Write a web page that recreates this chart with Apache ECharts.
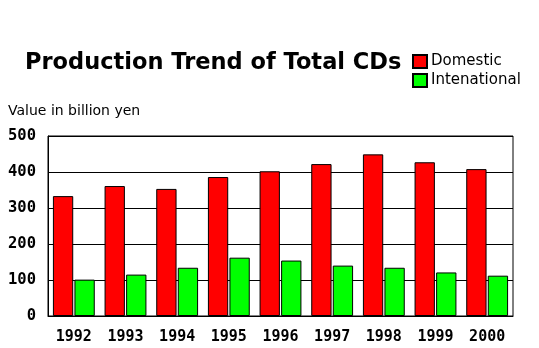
<!DOCTYPE html>
<html><head><meta charset="utf-8">
<script src="https://cdn.jsdelivr.net/npm/echarts@6/dist/echarts.min.js"></script>
<style>html,body{margin:0;padding:0;background:#fff}#c{width:539px;height:348px}</style>
</head><body><div id="c"></div>
<script>
const years = ['1992','1993','1994','1995','1996','1997','1998','1999','2000'];
const domestic = [333, 361, 353, 386, 402, 422, 449, 427, 408];
const international = [101, 115, 134, 162, 154, 140, 134, 121, 112];
const yTicks = [0, 100, 200, 300, 400, 500];

const chart = echarts.init(document.getElementById('c'), null, {renderer: 'canvas'});
chart.setOption({
  animation: false,
  backgroundColor: '#fff',
  title: {
    text: 'Production Trend of Total CDs',
    left: 20, top: 47,
    textStyle: {fontFamily: 'DejaVu Sans', fontWeight: 'bold', fontSize: 22.5, color: '#000'}
  },
  legend: {
    orient: 'vertical', left: 407, top: 49, itemWidth: 14, itemHeight: 13, itemGap: 4,
    icon: 'rect',
    textStyle: {fontFamily: 'DejaVu Sans', fontSize: 15, color: '#000', padding: [0,0,0,-1]},
    data: ['Domestic', 'Intenational']
  },
  graphic: [{
    type: 'text', left: 8, top: 104,
    style: {text: 'Value in billion yen', font: '14px "DejaVu Sans"', fill: '#000'}
  }],
  grid: {left: 48, right: 26, top: 136, bottom: 32, show: true, borderColor: '#000', borderWidth: 1},
  xAxis: {
    type: 'category', data: years,
    axisLine: {lineStyle: {color: '#000'}}, axisTick: {show: false},
    axisLabel: {fontFamily: 'DejaVu Sans Mono', fontWeight: 'bold', fontSize: 15, color: '#000', margin: 14}
  },
  yAxis: {
    type: 'value', min: yTicks[0], max: yTicks[yTicks.length-1], interval: 100,
    axisLine: {show: true, lineStyle: {color: '#000'}}, axisTick: {show: false},
    splitLine: {lineStyle: {color: '#000', width: 1}},
    axisLabel: {fontFamily: 'DejaVu Sans Mono', fontWeight: 'bold', fontSize: 15.5, color: '#000', margin: 12}
  },
  series: [
    {name: 'Domestic', type: 'bar', data: domestic, barGap: '6%', barCategoryGap: '19%',
     itemStyle: {color: '#ff0000', borderColor: '#000', borderWidth: 1}},
    {name: 'Intenational', type: 'bar', data: international,
     itemStyle: {color: '#00ff00', borderColor: '#000', borderWidth: 1}}
  ]
});
</script></body></html>
